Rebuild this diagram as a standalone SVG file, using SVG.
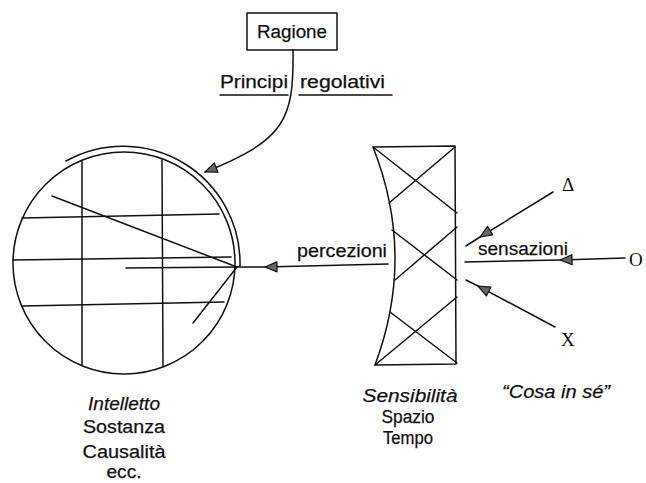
<svg xmlns="http://www.w3.org/2000/svg" width="646" height="483" viewBox="0 0 646 483">
<style>
.ln{fill:none;stroke:#111;stroke-width:1.5;stroke-linecap:round;stroke-linejoin:round}
.t{font-family:"Liberation Sans",Arial,sans-serif;font-size:18px;fill:#111;stroke:#111;stroke-width:0.25}
.i{font-style:italic}
.s{font-family:"Liberation Serif","Times New Roman",serif;font-size:19px;fill:#111}
</style>
<defs>
<marker id="ah" markerUnits="userSpaceOnUse" viewBox="-14 -7 16 14" refX="0" refY="0" markerWidth="16" markerHeight="14" orient="auto">
<path d="M0,0 L-12,-5 L-12,5 Z" fill="#666" stroke="#111" stroke-width="1.2" stroke-linejoin="round"/>
</marker>
</defs>
<rect width="646" height="483" fill="#fff"/>

<g id="node-ragione">
<rect x="247" y="13" width="90" height="37" class="ln"/>
<text class="t" x="292" y="38" text-anchor="middle" textLength="70" lengthAdjust="spacingAndGlyphs">Ragione</text>
</g>

<g id="label-principi">
<text class="t" x="220" y="88" textLength="68" lengthAdjust="spacingAndGlyphs">Principi</text>
<text class="t" x="300" y="88" textLength="85" lengthAdjust="spacingAndGlyphs">regolativi</text>
<line x1="220" y1="95" x2="288" y2="95" class="ln"/>
<line x1="299" y1="95" x2="392" y2="95" class="ln"/>
</g>

<g id="node-intelletto">
<circle cx="124" cy="263" r="111" class="ln"/>
<path d="M66,161 A117,117 0 0 1 240,266" class="ln"/>
<line x1="82" y1="161" x2="82" y2="365" class="ln"/>
<line x1="162" y1="160" x2="163" y2="366" class="ln"/>
<line x1="22" y1="218" x2="219" y2="214" class="ln"/>
<line x1="13" y1="260" x2="231" y2="257" class="ln"/>
<line x1="22" y1="306" x2="224" y2="302" class="ln"/>
<line x1="52" y1="196" x2="237" y2="267" class="ln"/>
<line x1="126" y1="268" x2="237" y2="267" class="ln"/>
<line x1="193" y1="323" x2="237" y2="267" class="ln"/>
<text class="t i" x="124" y="410" text-anchor="middle" textLength="72" lengthAdjust="spacingAndGlyphs">Intelletto</text>
<text class="t" x="124" y="433" text-anchor="middle" textLength="82" lengthAdjust="spacingAndGlyphs">Sostanza</text>
<text class="t" x="124" y="458" text-anchor="middle" textLength="83" lengthAdjust="spacingAndGlyphs">Causalità</text>
<text class="t" x="124" y="478" text-anchor="middle" textLength="35" lengthAdjust="spacingAndGlyphs">ecc.</text>
</g>

<g id="node-sensibilita">
<path d="M373,147 L455,146 L456,364 L375,365 Q416,256 373,147 Z" class="ln"/>
<line x1="373" y1="147" x2="457" y2="213" class="ln"/>
<line x1="455" y1="147" x2="389" y2="203" class="ln"/>
<line x1="392" y1="230" x2="457" y2="280" class="ln"/>
<line x1="395" y1="280" x2="457" y2="227" class="ln"/>
<line x1="390" y1="312" x2="457" y2="363" class="ln"/>
<line x1="375" y1="365" x2="457" y2="297" class="ln"/>
<text class="t i" x="410" y="402" text-anchor="middle" textLength="95" lengthAdjust="spacingAndGlyphs">Sensibilità</text>
<text class="t" x="408" y="423" text-anchor="middle" textLength="53" lengthAdjust="spacingAndGlyphs">Spazio</text>
<text class="t" x="408" y="444" text-anchor="middle" textLength="50" lengthAdjust="spacingAndGlyphs">Tempo</text>
</g>

<g id="node-cosa">
<text class="s" x="562" y="191">Δ</text>
<text class="s" x="629" y="266">O</text>
<text class="s" x="561" y="346">X</text>
<text class="t i" x="502" y="398" textLength="108" lengthAdjust="spacingAndGlyphs">“Cosa in sé”</text>
</g>

<g id="connectors">
<path d="M293,50 C294,120 285,140 205,172" class="ln" marker-end="url(#ah)"/>
<path d="M388,264 L265,267 L237,267" class="ln" marker-mid="url(#ah)"/>
<path d="M553,192 L480,237 L466,246" class="ln" marker-mid="url(#ah)"/>
<path d="M625,258 L560,260 L465,262" class="ln" marker-mid="url(#ah)"/>
<path d="M555,327 L478,286 L466,280" class="ln" marker-mid="url(#ah)"/>
<text class="t" x="297" y="257" textLength="90" lengthAdjust="spacingAndGlyphs">percezioni</text>
<text class="t" x="478" y="255" textLength="90" lengthAdjust="spacingAndGlyphs">sensazioni</text>
</g>
</svg>
